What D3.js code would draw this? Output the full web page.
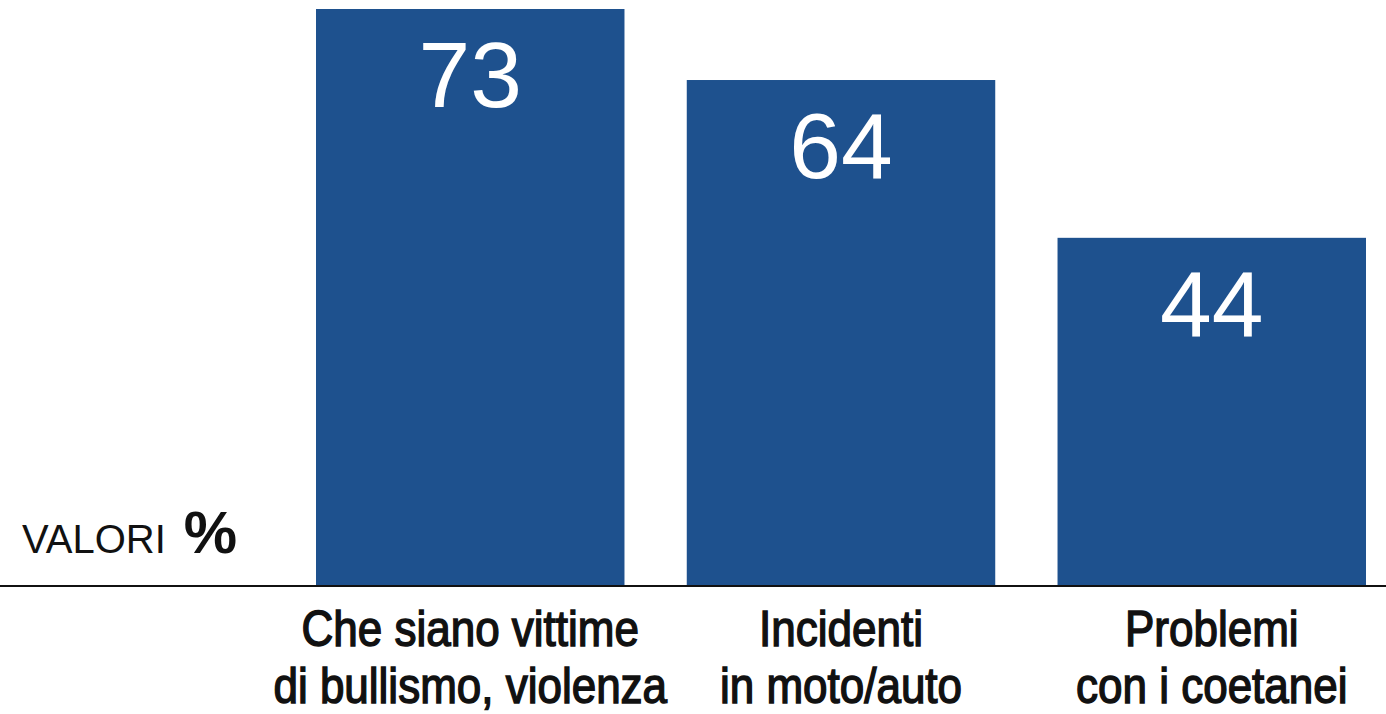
<!DOCTYPE html>
<html><head><meta charset="utf-8">
<script src="https://cdn.jsdelivr.net/npm/d3@7"></script>
<style>html,body{margin:0;padding:0;background:#fff;overflow:hidden}</style>
</head><body>
<svg id="c" width="1386" height="714"></svg>
<script>
const categories = [["Che siano vittime","di bullismo, violenza"],["Incidenti","in moto/auto"],["Problemi","con i coetanei"]];
const values = [73, 64, 44];
const barColor = "#1e518e";

const svg = d3.select("#c");
const x = d3.scaleBand().domain(d3.range(values.length)).range([316, 1366]).paddingInner(0.168).paddingOuter(0);
const y = d3.scaleLinear().domain([0, 73]).range([585, 9]);

svg.selectAll("rect.bar").data(values).enter().append("rect")
  .attr("class","bar")
  .attr("x",(d,i)=>x(i)).attr("width",x.bandwidth())
  .attr("y",d=>y(d)).attr("height",d=>y(0)-y(d))
  .attr("fill",barColor);

svg.selectAll("text.val").data(values).enter().append("text")
  .attr("class","val")
  .attr("x",(d,i)=>x(i)+x.bandwidth()/2)
  .attr("y",d=>y(d)+98)
  .attr("text-anchor","middle")
  .attr("fill","#fff")
  .attr("font-family","Liberation Sans, Arial, sans-serif")
  .attr("font-size",93)
  .text(d=>d);

svg.append("line").attr("x1",0).attr("x2",1386).attr("y1",586).attr("y2",586)
  .attr("stroke","#111").attr("stroke-width",2);

const sx = 0.88;
const g = svg.selectAll("g.cat").data(categories).enter().append("g")
  .attr("class","cat")
  .attr("transform",(d,i)=>`translate(${x(i)+x.bandwidth()/2},0) scale(${sx},1)`);
const t = g.append("text")
  .attr("text-anchor","middle")
  .attr("font-family","Liberation Sans, Arial, sans-serif")
  .attr("font-size",50)
  .attr("fill","#111")
  .attr("stroke","#111").attr("stroke-width",1.5);
t.each(function(d){
  const tt=d3.select(this);
  d.forEach((line,j)=>{
    tt.append("tspan").attr("x",0).attr("y",646+j*57).text(line);
  });
});

const lab = svg.append("text").attr("x",22).attr("y",553)
  .attr("font-family","Liberation Sans, Arial, sans-serif").attr("fill","#111");
lab.append("tspan").attr("font-size",40).text("VALORI");
lab.append("tspan").attr("font-size",60).attr("font-weight","bold").attr("dx",18).text("%");
</script>
</body></html>
